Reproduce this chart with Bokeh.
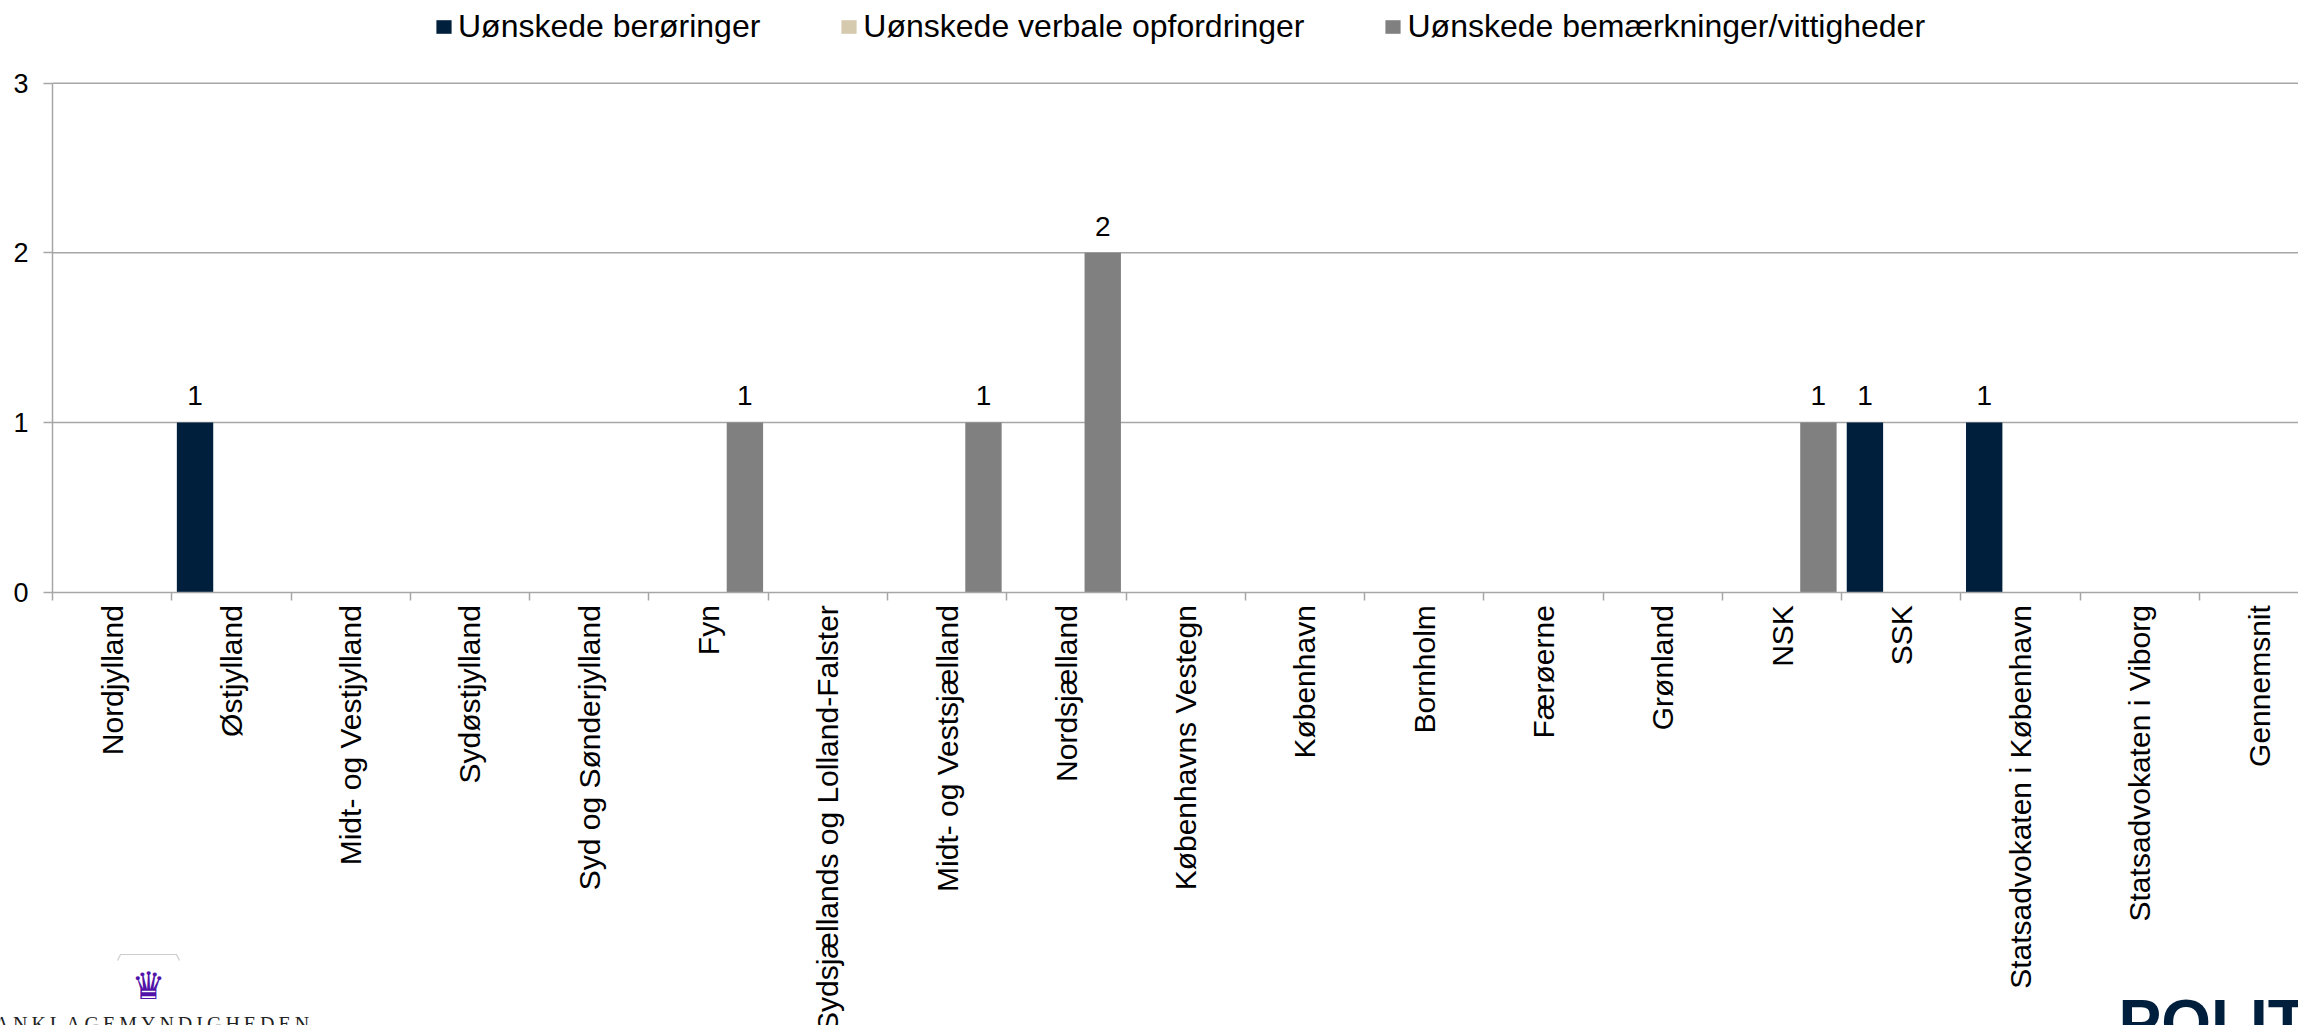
import math
from bokeh.plotting import figure
from bokeh.models import (ColumnDataSource, Range1d, FixedTicker, Legend, LegendItem,
                          LabelSet, Label, PolyAnnotation)
from bokeh.core.properties import value
from bokeh.embed import file_html
from bokeh.resources import INLINE

# ---------------- data ----------------
categories = ["Nordjylland", "Østjylland", "Midt- og Vestjylland", "Sydøstjylland",
              "Syd og Sønderjylland", "Fyn", "Sydsjællands og Lolland-Falster",
              "Midt- og Vestsjælland", "Nordsjælland", "Københavns Vestegn", "København",
              "Bornholm", "Færøerne", "Grønland", "NSK", "SSK",
              "Statsadvokaten i København", "Statsadvokaten i Viborg", "Gennemsnit"]
series_names = ["Uønskede berøringer", "Uønskede verbale opfordringer",
                "Uønskede bemærkninger/vittigheder"]
beroeringer = [0, 1, 0, 0, 0, 0, 0, 0, 0, 0, 0, 0, 0, 0, 0, 1, 1, 0, 0]
verbale = [0, 0, 0, 0, 0, 0, 0, 0, 0, 0, 0, 0, 0, 0, 0, 0, 0, 0, 0]
bemaerkninger = [0, 0, 0, 0, 0, 1, 0, 1, 2, 0, 0, 0, 0, 0, 1, 0, 0, 0, 0]
y_ticks = [0, 1, 2, 3]

# ---------------- style / layout ----------------
colors = ["#001f3d", "#d5c9ae", "#808080"]
FONT = "Liberation Sans"
GRAY = "#a6a6a6"
W, H = 2298, 1025
BAR_W = 0.305
offsets = [-BAR_W, 0.0, BAR_W]
# the plot frame covers the whole canvas; the axes sit at x=0 / y=0
X_START = -0.436
X_END = 18.83
Y_TOP = 3.487
Y_BOTTOM = -2.554

p = figure(width=W, height=H, output_backend="svg", toolbar_location=None,
           x_range=Range1d(X_START, X_END), y_range=Range1d(Y_BOTTOM, Y_TOP),
           min_border_left=0, min_border_right=0, min_border_top=0,
           min_border_bottom=0, background_fill_color="white",
           border_fill_color="white")
p.title.visible = False
p.outline_line_color = None

# horizontal grid lines (value axis 0..3), starting at the value axis
grid_y = y_ticks[1:]
p.segment(x0=[0] * len(grid_y), x1=[len(categories)] * len(grid_y), y0=grid_y, y1=grid_y,
          line_color=GRAY, line_width=1.5, level="underlay")

idx = list(range(len(categories)))
renderers = []
for k, (vals, color) in enumerate(zip([beroeringer, verbale, bemaerkninger], colors)):
    xs = [i + 0.5 + offsets[k] for i in idx]
    src = ColumnDataSource(dict(x=xs, top=vals))
    r = p.vbar(x="x", top="top", bottom=0, width=BAR_W, source=src,
               fill_color=color, line_color=None)
    renderers.append(r)
    lx = [x for x, v in zip(xs, vals) if v > 0]
    ly = [v for v in vals if v > 0]
    lt = [str(v) for v in vals if v > 0]
    lsrc = ColumnDataSource(dict(x=lx, y=ly, t=lt))
    p.add_layout(LabelSet(x="x", y="y", text="t", source=lsrc, y_offset=17,
                          text_align="center", text_baseline="alphabetic",
                          text_font=value(FONT), text_font_size=value("28px"),
                          text_color="black"))

# ---------------- axes ----------------
xa = p.xaxis[0]
xa.fixed_location = 0
xa.bounds = (0, X_END)
xa.ticker = FixedTicker(ticks=[i + 0.5 for i in idx],
                        minor_ticks=list(range(0, len(categories) + 1)))
xa.major_label_overrides = {i + 0.5: c for i, c in enumerate(categories)}
xa.major_label_orientation = math.pi / 2
xa.major_tick_out = 0
xa.major_tick_in = 0
xa.minor_tick_out = 8
xa.minor_tick_in = 0
xa.minor_tick_line_color = GRAY
xa.minor_tick_line_width = 1.5
xa.major_label_standoff = 5
xa.major_label_text_font = FONT
xa.major_label_text_font_size = "30px"
xa.major_label_text_color = "black"
xa.axis_line_color = GRAY
xa.axis_line_width = 1.5

ya = p.yaxis[0]
ya.fixed_location = 0
ya.ticker = FixedTicker(ticks=y_ticks)
ya.bounds = (0, 3)
ya.major_tick_out = 9
ya.major_tick_in = 0
ya.minor_tick_line_color = None
ya.major_tick_line_color = GRAY
ya.major_tick_line_width = 1.5
ya.axis_line_color = GRAY
ya.axis_line_width = 1.5
ya.major_label_standoff = 15
ya.major_label_text_font = FONT
ya.major_label_text_font_size = "27px"
ya.major_label_text_color = "black"

p.xgrid.visible = False
p.ygrid.visible = False

# ---------------- legend ----------------
legend = Legend(items=[LegendItem(label=n, renderers=[r]) for n, r in zip(series_names, renderers)],
                orientation="horizontal", location=(434, 980), padding=0, margin=0,
                spacing=79, label_standoff=5, glyph_width=19, glyph_height=17,
                label_text_font=FONT, label_text_font_size="32px",
                label_text_color="black",
                border_line_color=None, background_fill_alpha=0)
p.add_layout(legend, "center")

# ---------------- logos (decoration) ----------------


def sx(page_x):
    return page_x


def sy(page_y):
    return H - page_y


p.add_layout(Label(x=sx(2118), y=sy(986), x_units="screen", y_units="screen", text="POLITI",
                   text_font=FONT, text_font_style="bold", text_font_size="64px",
                   text_color="#001f3d", text_baseline="top", text_align="left"))
p.add_layout(Label(x=sx(148), y=sy(985), x_units="screen", y_units="screen", text="♛",
                   text_font="DejaVu Sans", text_font_size="38px",
                   text_color="#5214a8", text_baseline="middle", text_align="center"))
p.add_layout(PolyAnnotation(xs=[sx(117), sx(120), sx(176), sx(179), sx(176), sx(120)],
                            ys=[sy(960), sy(954), sy(954), sy(960), sy(954), sy(954)],
                            xs_units="screen", ys_units="screen",
                            fill_color=None, line_color="#555555", line_width=1.2))
p.add_layout(Label(x=sx(-6), y=sy(1012), x_units="screen", y_units="screen",
                   text="A\u2009N\u2009K\u2009L\u2009A\u2009G\u2009E\u2009M\u2009Y\u2009N\u2009D\u2009I\u2009G\u2009H\u2009E\u2009D\u2009E\u2009N",
                   text_font="Liberation Serif", text_font_size="20px",
                   text_color="#222222", text_baseline="top", text_align="left"))

open("out.html", "w").write(file_html(p, INLINE))
